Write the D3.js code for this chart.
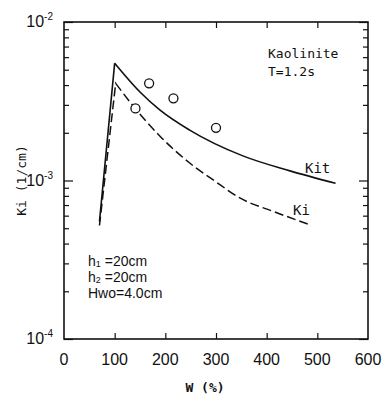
<!DOCTYPE html>
<html>
<head>
<meta charset="utf-8">
<script src="https://cdn.jsdelivr.net/npm/d3@7"></script>
<style>
  body { margin: 0; background: #fff; }
  svg text { fill: #111; }
</style>
</head>
<body>
<div id="graph"></div>
<script>
// values (first point = start of the rise, second = peak)
var kitW = [70, 100, 150, 189, 248, 353, 446, 536];
var kitK = [5.5e-4, 5.5e-3, 3.62e-3, 2.79e-3, 2.08e-3, 1.43e-3, 1.15e-3, 9.6e-4];

var kiW = [70, 102, 140, 189, 248, 298, 347, 416, 481];
var kiK = [5.2e-4, 4.1e-3, 2.86e-3, 1.91e-3, 1.29e-3, 9.9e-4, 7.76e-4, 6.33e-4, 5.32e-4];

var obsW = [141, 168, 216, 300];
var obsK = [2.85e-3, 4.1e-3, 3.3e-3, 2.15e-3];

var xTicks = [0, 100, 200, 300, 400, 500, 600];
var yDecades = [1e-4, 1e-3, 1e-2];
var yExp = ["-4", "-3", "-2"];

var width = 386, height = 401;
var margin = {left: 64, right: 18, top: 22, bottom: 62};

var x = d3.scaleLinear()
  .domain([0, 600])
  .range([margin.left, width - margin.right]);

var y = d3.scaleLog()
  .domain([1e-4, 1e-2])
  .range([height - margin.bottom, margin.top]);

var svg = d3.select('#graph')
  .append('svg')
  .attr('width', width)
  .attr('height', height);

// minor ticks for the log axis
var minor = [];
[1e-4, 1e-3].forEach(function(d){
  for (var k = 2; k <= 9; k++) minor.push(d * k);
});

// frame
svg.append('rect')
  .attr('x', x(0)).attr('y', y(1e-2))
  .attr('width', x(600) - x(0))
  .attr('height', y(1e-4) - y(1e-2))
  .attr('fill', 'none')
  .attr('stroke', '#111')
  .attr('stroke-width', 1.6);

// inward ticks: left, right, bottom, top
var inner = [100, 200, 300, 400, 500];
var axLeft = d3.axisRight(y).tickValues(yDecades).tickSize(9).tickFormat('');
var axLeftMinor = d3.axisRight(y).tickValues(minor).tickSize(5).tickFormat('');
var axRight = d3.axisLeft(y).tickValues(yDecades).tickSize(9).tickFormat('');
var axRightMinor = d3.axisLeft(y).tickValues(minor).tickSize(5).tickFormat('');
var axBottom = d3.axisTop(x).tickValues(inner).tickSize(6).tickFormat('');
var axTop = d3.axisBottom(x).tickValues(inner).tickSize(6).tickFormat('');

function put(ax, tx, ty){
  var g = svg.append('g').attr('transform', 'translate(' + tx + ',' + ty + ')').call(ax);
  g.select('.domain').remove();
  g.selectAll('line').attr('stroke', '#111').attr('stroke-width', 1.2);
}
put(axLeft, x(0), 0);
put(axLeftMinor, x(0), 0);
put(axRight, x(600), 0);
put(axRightMinor, x(600), 0);
put(axBottom, 0, y(1e-4));
put(axTop, 0, y(1e-2));

// x tick labels
svg.selectAll('.xl')
  .data(xTicks)
  .enter()
  .append('text')
  .attr('x', function(d){ return x(d); })
  .attr('y', y(1e-4) + 26)
  .attr('text-anchor', 'middle')
  .style('font-family', 'Liberation Sans, Arial, sans-serif')
  .style('font-size', '16px')
  .text(function(d){ return d; });

// y tick labels 10^n
var yl = svg.selectAll('.yl')
  .data(yDecades)
  .enter()
  .append('text')
  .attr('x', x(0) - 11)
  .attr('y', function(d){ return y(d) + 5; })
  .attr('text-anchor', 'end')
  .style('font-family', 'Liberation Sans, Arial, sans-serif')
  .style('font-size', '16px');
yl.append('tspan').text('10');
yl.append('tspan')
  .attr('dy', -7)
  .style('font-size', '10px')
  .text(function(d, i){ return yExp[i]; });

// axis titles
svg.append('text')
  .attr('transform', 'translate(' + 26 + ',' + ((y(1e-4) + y(1e-2)) / 2) + ') rotate(-90)')
  .attr('text-anchor', 'middle')
  .style('font-family', 'DejaVu Sans Mono, monospace')
  .style('font-size', '13px')
  .text('Ki (1/cm)');

svg.append('text')
  .attr('x', 205)
  .attr('y', 392)
  .attr('text-anchor', 'middle')
  .style('font-family', 'DejaVu Sans Mono, monospace')
  .style('font-size', '13px')
  .style('font-weight', 'bold')
  .text('W (%)');

// rise is straight, the decay after the peak is smooth
var lineStraight = d3.line()
  .x(function(d){ return x(d[0]); })
  .y(function(d){ return y(d[1]); });
var lineSmooth = d3.line()
  .x(function(d){ return x(d[0]); })
  .y(function(d){ return y(d[1]); })
  .curve(d3.curveMonotoneX);

function drawSeries(ws, ks, dash, sw){
  var pts = d3.zip(ws, ks);
  var p = lineStraight(pts.slice(0, 2)) + lineSmooth(pts.slice(1)).replace(/^M[^A-Za-z]*/, 'L' + x(ws[1]) + ',' + y(ks[1]));
  svg.append('path')
    .attr('d', p)
    .attr('fill', 'none')
    .attr('stroke', '#111')
    .attr('stroke-width', sw)
    .attr('stroke-linejoin', 'miter')
    .attr('stroke-dasharray', dash);
}
drawSeries(kitW, kitK, null, 1.6);
drawSeries(kiW, kiK, '9,4', 1.5);

svg.selectAll('.obs')
  .data(d3.zip(obsW, obsK))
  .enter()
  .append('circle')
  .attr('cx', function(d){ return x(d[0]); })
  .attr('cy', function(d){ return y(d[1]); })
  .attr('r', 4.5)
  .attr('fill', '#fff')
  .attr('stroke', '#111')
  .attr('stroke-width', 1.3);

// annotations
function note(tx, ty, s, size){
  svg.append('text')
    .attr('x', tx).attr('y', ty)
    .style('font-family', 'DejaVu Sans Mono, monospace')
    .style('font-size', size + 'px')
    .text(s);
}
note(268, 58, 'Kaolinite', 13);
note(268, 76, 'T=1.2s', 13);
note(305, 173, 'Kit', 14);
note(293, 215, 'Ki', 14);

var leg = [['h', '1', ' =20cm'], ['h', '2', ' =20cm'], ['Hwo=4.0cm', '', '']];
leg.forEach(function(r, i){
  var t = svg.append('text')
    .attr('x', 88).attr('y', 266 + i * 16)
    .style('font-family', 'Liberation Sans, Arial, sans-serif')
    .style('font-size', '14px');
  t.append('tspan').text(r[0]);
  if (r[1]) t.append('tspan').attr('dy', 1).style('font-size', '9px').text(r[1]);
  if (r[2]) t.append('tspan').attr('dy', -1).text(r[2]);
});
</script>
</body>
</html>
